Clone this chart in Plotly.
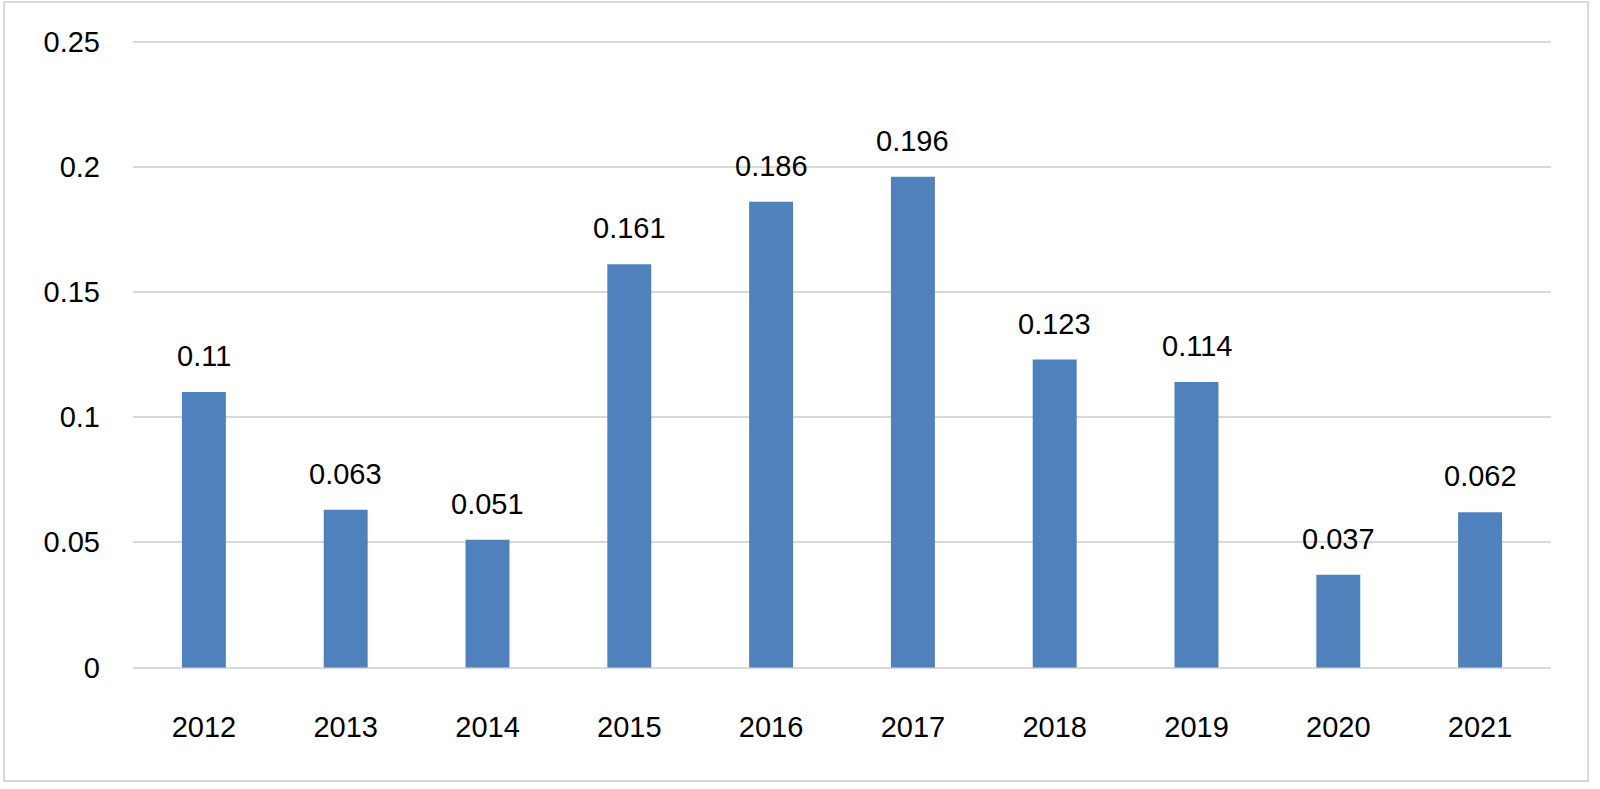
import plotly.graph_objects as go

years = ["2012", "2013", "2014", "2015", "2016", "2017", "2018", "2019", "2020", "2021"]
values = [0.11, 0.063, 0.051, 0.161, 0.186, 0.196, 0.123, 0.114, 0.037, 0.062]
value_labels = ["0.11", "0.063", "0.051", "0.161", "0.186", "0.196", "0.123", "0.114", "0.037", "0.062"]
y_ticks = [0, 0.05, 0.1, 0.15, 0.2, 0.25]
y_tick_text = ["0", "0.05", "0.1", "0.15", "0.2", "0.25"]

FONT = "Liberation Sans, Arial, sans-serif"
FS = 29
GRID = "#D9D9D9"

fig = go.Figure()
fig.add_trace(go.Bar(
    x=years, y=values,
    marker=dict(color="#4F81BD", line=dict(width=0)),
    hoverinfo="x+y",
))

# category axis: annotation positions are category indices
annotations = [
    dict(x=i, y=v, text=t, xref="x", yref="y", showarrow=False,
         yanchor="bottom", yshift=18,
         font=dict(family=FONT, size=FS, color="#000000"))
    for i, (v, t) in enumerate(zip(values, value_labels))
]

# plot area: 39..670 px (range padded slightly so end gridlines are drawn)
fig.update_layout(
    width=1600, height=789,
    margin=dict(l=133, r=49, t=39, b=119),
    paper_bgcolor="white", plot_bgcolor="white",
    bargap=0.69,
    showlegend=False,
    font=dict(family=FONT, size=FS, color="#000000"),
    annotations=annotations,
    shapes=[dict(type="rect", xref="paper", yref="paper",
                 x0=-0.0910, x1=1.0262, y0=-0.1760, y1=1.0586,
                 line=dict(color=GRID, width=2), fillcolor="rgba(0,0,0,0)",
                 layer="below")],
)
fig.update_xaxes(
    type="category", range=[-0.5, len(years) - 0.5],
    showgrid=False, showline=False, ticks="",
    tickfont=dict(family=FONT, size=FS, color="#000000"),
    ticklabelstandoff=37,
)
fig.update_yaxes(
    range=[-0.001, 0.251], tickvals=y_ticks, ticktext=y_tick_text,
    showgrid=True, gridcolor=GRID, gridwidth=2,
    zeroline=False, showline=False, ticks="",
    tickfont=dict(family=FONT, size=FS, color="#000000"),
    ticklabelstandoff=32,
)

fig.write_html(
    "out.html",
    config={"displayModeBar": False},
    post_script="document.body.style.margin='0';document.body.style.overflow='hidden';",
)
